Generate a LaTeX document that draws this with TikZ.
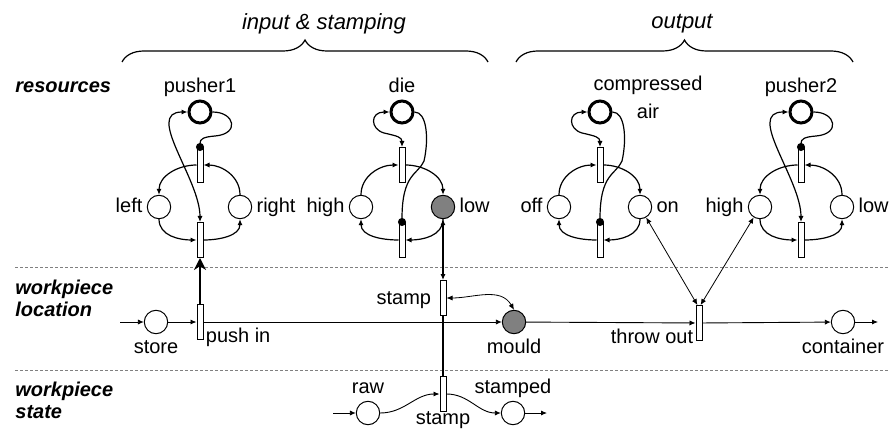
\documentclass[tikz,border=0pt]{standalone}
\usepackage{fontspec}
\setmainfont{Liberation Sans}
\usetikzlibrary{arrows.meta,decorations.pathreplacing,positioning}
\tikzset{
  place/.style={circle,draw,line width=0.5pt,minimum size=11.7pt,inner sep=0pt},
  resource/.style={place,line width=1.5pt,minimum size=11pt},
  marked/.style={place,fill=gray},
  trans/.style={rectangle,draw,fill=white,line width=0.5pt,minimum width=3pt,minimum height=17.5pt,inner sep=0pt},
  lbl/.style={font=\fontsize{10}{12}\selectfont,inner sep=1pt,text height=7.5pt,text depth=1.5pt},
  arc/.style={-{Latex[length=3pt,width=2.6pt]},line width=0.6pt},
  biarc/.style={{Latex[length=3pt,width=2.6pt]}-{Latex[length=3pt,width=2.6pt]},line width=0.6pt},
  thinbiarc/.style={biarc,line width=0.4pt},
  testarc/.style={-{Circle[length=4pt]},line width=0.6pt,shorten >=-2pt},
  flow/.style={-{Latex[length=3pt,width=2.6pt]},line width=0.45pt},
  link/.style={line width=1.3pt},
  rowlbl/.style={font=\fontsize{10}{11}\selectfont\bfseries\itshape,align=left,anchor=west,inner sep=0pt},
  hdr/.style={font=\fontsize{11}{13}\selectfont\itshape},
  sepline/.style={gray,dash pattern=on 1.5pt off 1pt,line width=0.5pt}
}
\begin{document}
\begin{tikzpicture}[x=0.5pt,y=0.5pt,label distance=1pt]
\useasboundingbox (0,0) rectangle (889,429);

\node[hdr] (inhdr) at (324,405) {input \& stamping};
\node[hdr] (outhdr) at (682,405) {output};
\draw[decorate,decoration={brace,amplitude=11pt},line width=0.6pt] (122,367) -- (488,367);
\draw[decorate,decoration={brace,amplitude=11pt},line width=0.6pt] (516,367) -- (853,367);

\node[rowlbl] (reslbl) at (15,342) {resources};
\node[rowlbl] (loclbl) at (15,131) {workpiece\\location};
\node[rowlbl] (statelbl) at (15,29) {workpiece\\state};
\draw[sepline] (15,162) -- (889,162);
\draw[sepline] (15,59) -- (889,59);

\node[resource,label={[lbl]above:pusher1}] (pa) at (200,317) {};
\node[trans] (pa-t1) at (200,264) {};
\node[place,label={[lbl]left:left}] (pa-l) at (159,222) {};
\node[place,label={[lbl]right:right}] (pa-r) at (240,222) {};
\node[trans] (pa-t2) at (200,189) {};

\node[resource,label={[lbl]above:die}] (die) at (402,317) {};
\node[trans] (die-t1) at (402,264) {};
\node[place,label={[lbl]left:high}] (die-l) at (361,222) {};
\node[marked,label={[lbl]right:low}] (die-r) at (443,222) {};
\node[trans] (die-t2) at (402,189) {};

\node[resource] (air) at (600,317) {};
\node[lbl,align=center,font=\fontsize{10}{14}\selectfont,text height=,text depth=] (airlbl) at (648,332) {compressed\\air};
\node[trans] (air-t1) at (600,264) {};
\node[place,label={[lbl]left:off}] (air-l) at (559,222) {};
\node[place,label={[lbl]right:on}] (air-r) at (640,222) {};
\node[trans] (air-t2) at (600,189) {};

\node[resource,label={[lbl]above:pusher2}] (pb) at (801,317) {};
\node[trans] (pb-t1) at (801,264) {};
\node[place,label={[lbl]left:high}] (pb-l) at (760,222) {};
\node[place,label={[lbl]right:low}] (pb-r) at (842,222) {};
\node[trans] (pb-t2) at (801,189) {};

\foreach \n/\cx in {pa/200,pb/801} {
  \draw[arc] (\n-t1.west) to[out=180,in=90] (\n-l.north);
  \draw[arc] (\n-r.north) to[out=90,in=0] (\n-t1.east);
  \draw[arc] (\n-l.south) to[out=-90,in=180] (\n-t2.west);
  \draw[arc] (\n-t2.east) to[out=0,in=-90] (\n-r.south);
  \draw[biarc] (\n.west) to[out=180,in=90] (\n-t2.north);
  \draw[testarc] (\n.east) .. controls (\cx+35,317) and (\cx+40,295) .. (\cx+15,293)
    .. controls (\cx+3,292) and (\cx,290) .. (\n-t1.north);
}
\foreach \n/\cx in {die/402,air/600} {
  \draw[arc] (\n-l.north) to[out=90,in=180] (\n-t1.west);
  \draw[arc] (\n-t1.east) to[out=0,in=90] (\n-r.north);
  \draw[arc] (\n-r.south) to[out=-90,in=0] (\n-t2.east);
  \draw[arc] (\n-t2.west) to[out=180,in=-90] (\n-l.south);
  \draw[biarc] (\n.west) .. controls (\cx-32,317) and (\cx-32,300) .. (\cx-18,296)
    .. controls (\cx-5,293) and (\cx,292) .. (\n-t1.north);
  \draw[testarc] (\n.east) .. controls (\cx+25,317) and (\cx+27,290) .. (\cx+22,268)
    .. controls (\cx+16,254) and (\cx,256) .. (\n-t2.north);
}

\coordinate (storein) at (120,107);
\node[place,label={[lbl]below:store}] (store) at (156,107) {};
\node[trans] (push) at (200,107) {};
\node[lbl,anchor=west] (pushlbl) at ([yshift=2pt]push.south east) {push in};
\node[trans,label={[lbl,label distance=3pt]left:stamp}] (stampl) at (443,131) {};
\node[marked,label={[lbl]below:mould}] (mould) at (514,107) {};
\node[trans] (throw) at (699,106) {};
\node[lbl,anchor=east] (throwlbl) at ([yshift=2pt]throw.south west) {throw out};
\node[place,label={[lbl]below:container}] (cont) at (843,107) {};
\coordinate (contout) at (878,107);

\draw[flow] (storein) -- (store);
\draw[flow] (store) -- (push);
\draw[flow] (push) -- (mould);
\draw[flow] (mould) -- (throw);
\draw[flow] (throw) -- (cont);
\draw[flow] (cont) -- (contout);
\draw[link,-{Stealth[length=6pt,width=6pt]}] (push.north) -- (pa-t2.south);
\draw[biarc] (die-r.south) -- (stampl.north);
\draw[thinbiarc] (stampl.east) to[out=0,in=120] (mould.north);
\draw[thinbiarc] (air-r) -- ([xshift=-0.8pt]throw.north);
\draw[thinbiarc] (pb-l) -- ([xshift=0.8pt]throw.north);

\coordinate (rawin) at (333,16);
\node[place,label={[lbl]above:raw}] (raw) at (368,16) {};
\node[trans,label={[lbl,inner sep=0pt,label distance=-1.5pt]below:stamp}] (stamps) at (443,35) {};
\node[place,label={[lbl]above:stamped}] (stamped) at (513,16) {};
\coordinate (stampedout) at (547,16);

\draw[link] (stampl.south) -- (stamps.north);
\draw[flow] (rawin) -- (raw);
\draw[flow] (raw.east) to[out=0,in=180] (stamps.west);
\draw[flow] (stamps.east) to[out=0,in=180] (stamped.west);
\draw[flow] (stamped) -- (stampedout);
\end{tikzpicture}
\end{document}
